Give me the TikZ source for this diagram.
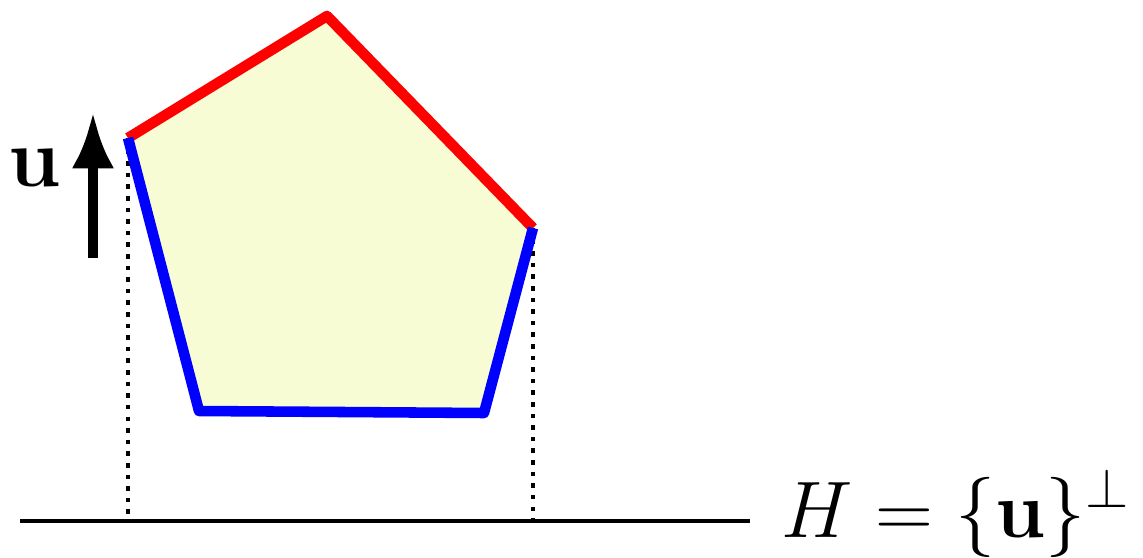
\documentclass[tikz,border=0pt]{standalone}
\usepackage{amsmath,amssymb}
\usepackage{graphicx}
\usepackage{tikz}
\usetikzlibrary{arrows.meta}
\definecolor{facefill}{RGB}{247,252,213}

\begin{document}
\begin{tikzpicture}[x=0.01cm,y=-0.01cm]
  % pixel grid of the reference, origin at top left
  \useasboundingbox (0,0) rectangle (1143,558);
  \coordinate (A) at (128,138);
  \coordinate (B) at (327,16);
  \coordinate (C) at (533,228);
  \coordinate (D) at (484,413);
  \coordinate (E) at (199,411);
  \coordinate (A0) at (128,521);
  \coordinate (C0) at (533,521);
  \coordinate (L) at (20,521);
  \coordinate (R) at (750,521);
  \fill[facefill] (A) -- (B) -- (C) -- (D) -- (E) -- cycle;
  \draw[dotted,line width=1.3pt] (A) -- (A0);
  \draw[dotted,line width=1.3pt] (C) -- (C0);
  \draw[line width=1.1pt] (L) -- (R);
  \draw[red,line width=3pt,line join=round] (A) -- (B) -- (C);
  \draw[blue,line width=3pt,line join=round] (C) -- (D) -- (E) -- (A);
  \coordinate (u0) at (93,258);
  \coordinate (u1) at (93,112);
  \draw[-{Latex[length=16pt,width=12pt]},line width=3pt] (u0) -- (u1);
  \node (ulab) at (35,168) {\scalebox{1.15}{\huge$\mathbf{u}$}};
  \node[anchor=base west,inner sep=0pt] (hlab) at (781,537) {\scalebox{1.1}{\huge$H=\{\mathbf{u}\}^{\perp}$}};
\end{tikzpicture}
\end{document}
